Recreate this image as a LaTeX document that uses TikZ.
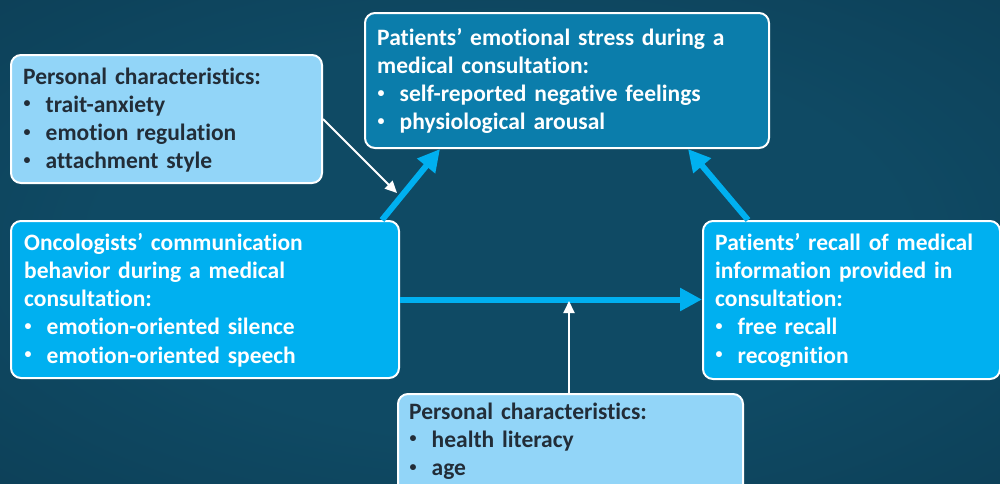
\documentclass[tikz,border=0pt]{standalone}
\usepackage{fontspec}
\setmainfont{Carlito}[Ligatures=NoCommon]
\usetikzlibrary{arrows.meta,calc}
\definecolor{bgin}{HTML}{0F4A64}
\definecolor{bgout}{HTML}{072B3F}
\definecolor{stressfill}{HTML}{0B7DAB}
\definecolor{lightfill}{HTML}{92D5F8}
\definecolor{brightfill}{HTML}{00B0F0}
\definecolor{darktext}{HTML}{222D38}
\pgfdeclareradialshading{bgshade}{\pgfpoint{0bp}{0bp}}{color(0bp)=(bgin); color(20bp)=(bgin); color(72bp)=(bgout)}
\newcommand\itm[1]{\makebox[22.5pt][l]{\hspace{0.5pt}\raisebox{4.5pt}{\fontsize{14}{14}\selectfont •}}#1}
\begin{document}
\begin{tikzpicture}[x=1pt,y=-1pt,
  box/.style={draw=white, line width=2pt, rounded corners=10pt, anchor=north west, inner sep=0pt},
  lightbox/.style={box, fill=lightfill},
  brightbox/.style={box, fill=brightfill},
  stressbox/.style={box, fill=stressfill},
  txt/.style={anchor=base west, inner sep=0pt, align=left, text width=420pt,
    font=\fontsize{23.5}{28.3}\selectfont\bfseries},
  bluearrow/.style={draw=brightfill, line width=6pt, -{Triangle[length=22pt,width=22pt]}},
  whitearrow/.style={draw=white, line width=2pt, -{Triangle[length=12pt,width=11pt]}}]
\useasboundingbox (0,0) rectangle (1000,483);
\clip (0,0) rectangle (1000,483);
\shade[shading=bgshade] (0,0) rectangle (1000,483);

% boxes
\node[lightbox, minimum width=311pt, minimum height=128pt] (pers1) at (10,54) {};
\node[stressbox, minimum width=404pt, minimum height=135pt] (stress) at (364,12) {};
\node[brightbox, minimum width=388pt, minimum height=157pt] (onc) at (10,220) {};
\node[brightbox, minimum width=297pt, minimum height=158pt] (recall) at (702,220) {};
\node[lightbox, minimum width=345pt, minimum height=120pt] (pers2) at (397,393) {};

% texts
\node[txt, text=darktext] (pers1t) at (23,84) {Personal characteristics:\\
  \itm{trait-anxiety}\\ \itm{emotion regulation}\\ \itm{attachment style}};
\node[txt, text=white] (stresst) at (377,45) {Patients’ emotional stress during a\\
  medical consultation:\\ \itm{self-reported negative feelings}\\ \itm{physiological arousal}};
\node[txt, text=white] (onct) at (24,250) {Oncologists’ communication\\
  behavior during a medical\\ consultation:\\ \itm{emotion-oriented silence}\\ \itm{emotion-oriented speech}};
\node[txt, text=white] (recallt) at (715,250) {Patients’ recall of medical\\
  information provided in\\ consultation:\\ \itm{free recall}\\ \itm{recognition}};
\node[txt, text=darktext] (pers2t) at (409,419) {Personal characteristics:\\
  \itm{health literacy}\\ \itm{age}};

% connectors
\draw[bluearrow] ($(onc.north east)+(-18,0)$) -- ($(stress.south west)+(76,0)$);
\draw[bluearrow] ($(recall.north west)+(46,0)$) -- ($(stress.south east)+(-82,0)$);
\draw[bluearrow] (onc.east) -- (onc.east -| recall.west);
\coordinate (wtip1) at (397,193);
\draw[whitearrow] (pers1.east) -- (wtip1);
\coordinate (wtip2) at ($(pers2.north west)+(172,-92)$);
\draw[whitearrow] ($(pers2.north west)+(172,0)$) -- (wtip2);
\end{tikzpicture}
\end{document}
